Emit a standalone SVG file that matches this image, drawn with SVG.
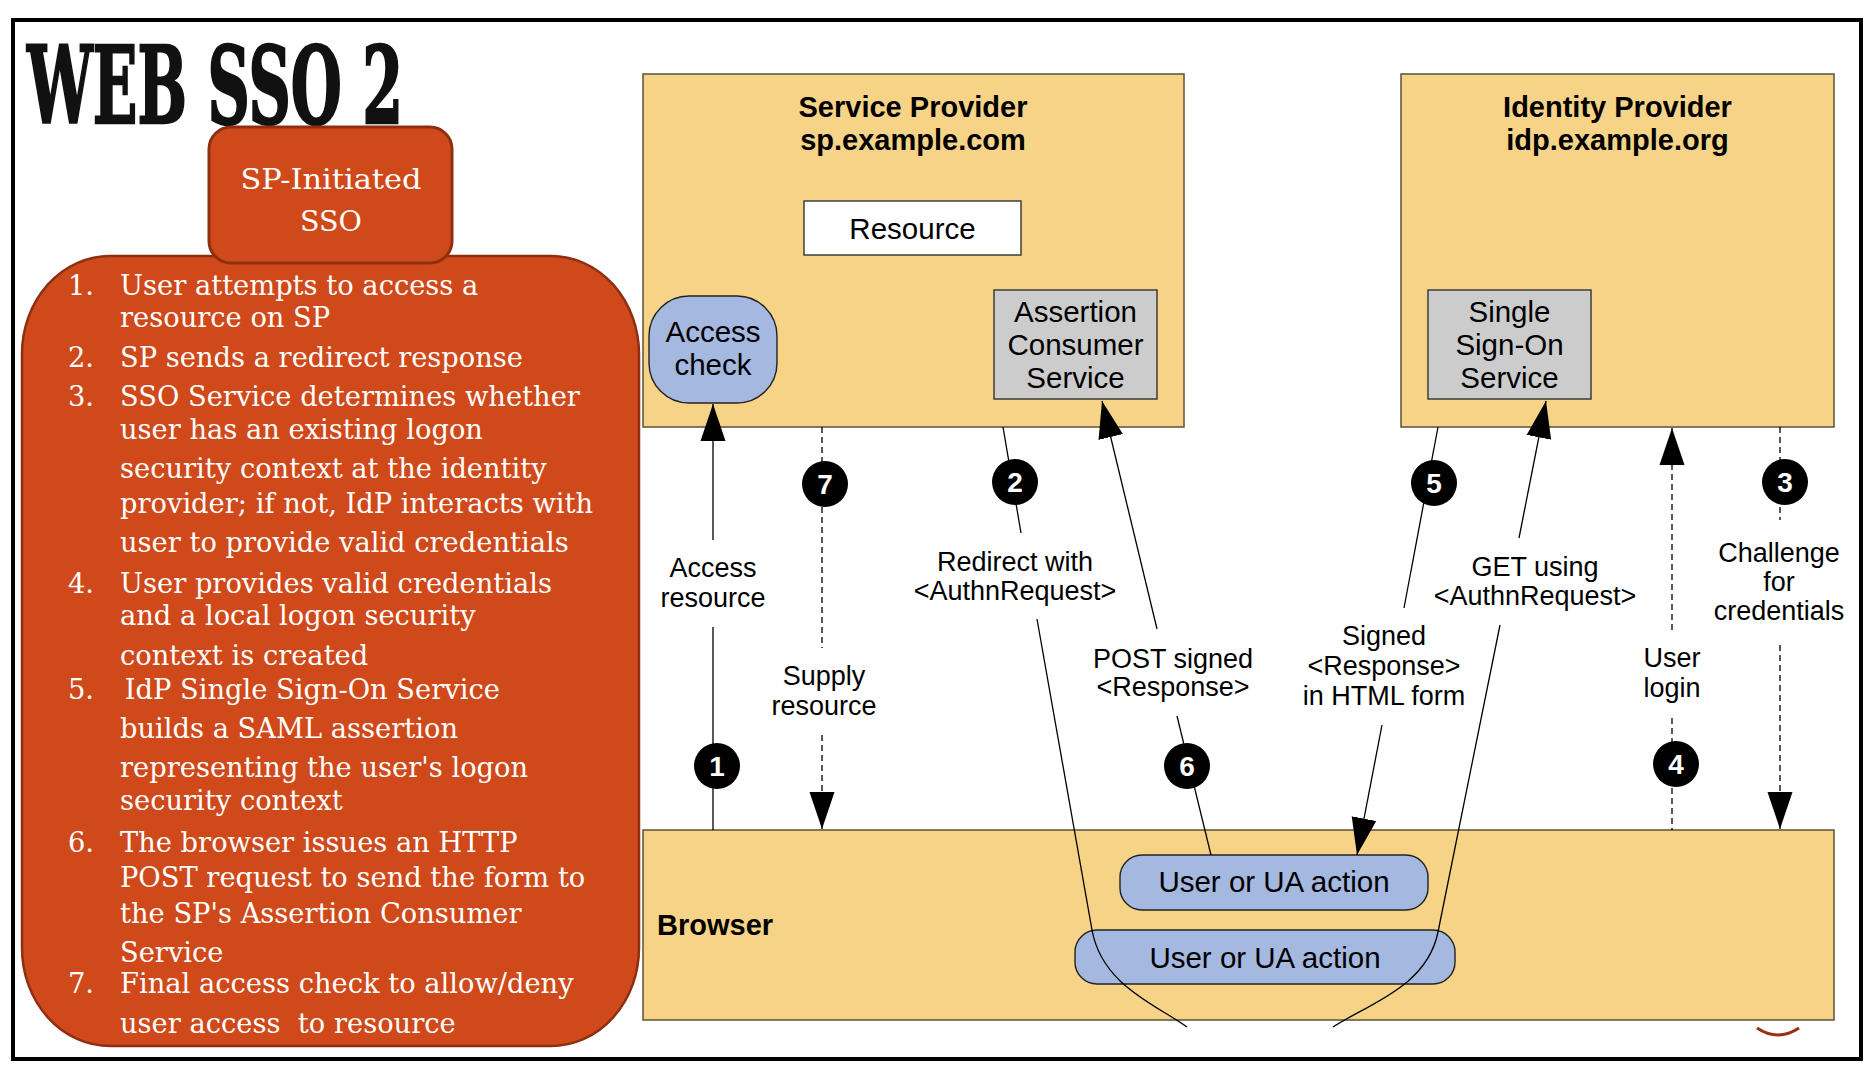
<svg xmlns="http://www.w3.org/2000/svg" width="1872" height="1069" viewBox="0 0 1872 1069">
  <style>
    .panel { fill: #D0491B; stroke: #8E2F12; }
    .ltxt { font-family: 'DejaVu Serif', 'Liberation Serif', serif; font-size: 27.3px; fill: #FFFFFF; white-space: pre; }
    .zone { fill: #F6D387; stroke: #5E5236; stroke-width: 1.5; }
    .ztitle { font-family: 'Liberation Sans', Arial, sans-serif; font-size: 29px; font-weight: bold; fill: #000; text-anchor: middle; }
    .ntxt { font-family: 'Liberation Sans', Arial, sans-serif; font-size: 29.5px; fill: #000; text-anchor: middle; }
    .blue { fill: #A5B8DF; stroke: #222; stroke-width: 1.4; }
    .gray { fill: #CCCCCC; stroke: #333; stroke-width: 1.4; }
    .white { fill: #FFFFFF; stroke: #333; stroke-width: 1.4; }
    .line { fill: none; stroke: #000; stroke-width: 1.3; }
    .dash { fill: none; stroke: #000; stroke-width: 1.3; stroke-dasharray: 6 4; }
    .lab { font-family: 'Liberation Sans', Arial, sans-serif; font-size: 27px; fill: #000; text-anchor: middle; }
    .step { fill: #000; }
    .num { font-family: 'Liberation Sans', Arial, sans-serif; font-size: 28px; font-weight: bold; fill: #FFF; text-anchor: middle; }
  </style>
  <defs>
    <marker id="arr" markerUnits="userSpaceOnUse" markerWidth="37" markerHeight="26" viewBox="0 0 37 26" refX="37" refY="13" orient="auto">
      <path d="M0,0.5 L37,13 L0,25.5 Z" fill="#000" stroke="none"/>
    </marker>
  </defs>

  <rect x="0" y="0" width="1872" height="1069" fill="#FFFFFF"/>
  <rect id="frame" x="13" y="20" width="1848" height="1039" fill="none" stroke="#000" stroke-width="4"/>

  <g id="title">
    <text x="27" y="123" font-family="'DejaVu Serif', 'Liberation Serif', serif" font-weight="bold" font-size="106" textLength="376" lengthAdjust="spacingAndGlyphs" fill="#111" stroke="#111" stroke-width="2.5">WEB SSO 2</text>
  </g>

  <g id="steps-panel">
    <rect class="panel" x="22" y="256" width="617" height="790" rx="88" ry="98" stroke-width="2.5"/>
    <text class="ltxt" x="68" y="295">1.</text><text class="ltxt" x="120" y="295">User attempts to access a</text>
    <text class="ltxt" x="120" y="327">resource on SP</text>
    <text class="ltxt" x="68" y="367">2.</text><text class="ltxt" x="120" y="367">SP sends a redirect response</text>
    <text class="ltxt" x="68" y="406">3.</text><text class="ltxt" x="120" y="406">SSO Service determines whether</text>
    <text class="ltxt" x="120" y="439">user has an existing logon</text>
    <text class="ltxt" x="120" y="478">security context at the identity</text>
    <text class="ltxt" x="120" y="513">provider; if not, IdP interacts with</text>
    <text class="ltxt" x="120" y="552">user to provide valid credentials</text>
    <text class="ltxt" x="68" y="593">4.</text><text class="ltxt" x="120" y="593">User provides valid credentials</text>
    <text class="ltxt" x="120" y="625">and a local logon security</text>
    <text class="ltxt" x="120" y="665">context is created</text>
    <text class="ltxt" x="68" y="699">5.</text><text class="ltxt" x="116" y="699"> IdP Single Sign-On Service</text>
    <text class="ltxt" x="120" y="738">builds a SAML assertion</text>
    <text class="ltxt" x="120" y="777">representing the user's logon</text>
    <text class="ltxt" x="120" y="810">security context</text>
    <text class="ltxt" x="68" y="852">6.</text><text class="ltxt" x="120" y="852">The browser issues an HTTP</text>
    <text class="ltxt" x="120" y="887">POST request to send the form to</text>
    <text class="ltxt" x="120" y="923">the SP's Assertion Consumer</text>
    <text class="ltxt" x="120" y="962">Service</text>
    <text class="ltxt" x="68" y="993">7.</text><text class="ltxt" x="120" y="993">Final access check to allow/deny</text>
    <text class="ltxt" x="120" y="1033">user access  to resource</text>
  </g>

  <g id="sp-initiated">
    <rect class="panel" x="209" y="127" width="243" height="136" rx="22" stroke-width="3"/>
    <text class="ltxt" x="331" y="189" font-size="31" text-anchor="middle" textLength="181" lengthAdjust="spacingAndGlyphs">SP-Initiated</text>
    <text class="ltxt" x="331" y="231" font-size="31" text-anchor="middle" textLength="62" lengthAdjust="spacingAndGlyphs">SSO</text>
  </g>

  <g id="service-provider">
    <rect class="zone" x="643" y="74" width="541" height="353"/>
    <text class="ztitle" x="913" y="117">Service Provider</text>
    <text class="ztitle" x="913" y="150">sp.example.com</text>
  </g>
  <g id="resource">
    <rect class="white" x="804" y="201" width="217" height="54"/>
    <text class="ntxt" x="912.5" y="239">Resource</text>
  </g>
  <g id="access-check">
    <rect class="blue" x="649" y="296" width="128" height="107" rx="40" ry="40"/>
    <text class="ntxt" x="713" y="342">Access</text>
    <text class="ntxt" x="713" y="375">check</text>
  </g>
  <g id="assertion-consumer-service">
    <rect class="gray" x="994" y="290" width="163" height="109"/>
    <text class="ntxt" x="1075.5" y="322">Assertion</text>
    <text class="ntxt" x="1075.5" y="355">Consumer</text>
    <text class="ntxt" x="1075.5" y="388">Service</text>
  </g>

  <g id="identity-provider">
    <rect class="zone" x="1401" y="74" width="433" height="353"/>
    <text class="ztitle" x="1617.5" y="117">Identity Provider</text>
    <text class="ztitle" x="1617.5" y="150">idp.example.org</text>
  </g>
  <g id="single-sign-on-service">
    <rect class="gray" x="1428" y="290" width="163" height="109"/>
    <text class="ntxt" x="1509.5" y="322">Single</text>
    <text class="ntxt" x="1509.5" y="355">Sign-On</text>
    <text class="ntxt" x="1509.5" y="388">Service</text>
  </g>

  <g id="browser">
    <rect class="zone" x="643" y="830" width="1191" height="190"/>
    <text x="657" y="935" font-family="'Liberation Sans', Arial, sans-serif" font-size="29" font-weight="bold" fill="#000">Browser</text>
  </g>
  <g id="ua-action-1">
    <rect class="blue" x="1120" y="855" width="308" height="55" rx="22" ry="22"/>
    <text class="ntxt" x="1274" y="892">User or UA action</text>
  </g>
  <g id="ua-action-2">
    <rect class="blue" x="1075" y="930" width="380" height="54" rx="22" ry="22"/>
    <text class="ntxt" x="1265" y="968">User or UA action</text>
  </g>

  <g id="connectors">
    <!-- 1 Access resource -->
    <path class="line" d="M713,540 L713,404" marker-end="url(#arr)"/>
    <path class="line" d="M713,627 L713,830"/>
    <text class="lab" x="713" y="577">Access</text>
    <text class="lab" x="713" y="607">resource</text>
    <!-- 7 Supply resource -->
    <path class="dash" d="M822,427 L822,648"/>
    <path class="dash" d="M822,735 L822,829" marker-end="url(#arr)"/>
    <text class="lab" x="824" y="685">Supply</text>
    <text class="lab" x="824" y="715">resource</text>
    <!-- 2 Redirect with AuthnRequest -->
    <path class="line" d="M1003,427 L1021,533"/>
    <path class="line" d="M1037,619 L1092,930 C1102,985 1155,1004 1187,1027"/>
    <text class="lab" x="1015" y="571">Redirect with</text>
    <text class="lab" x="1015" y="600">&lt;AuthnRequest&gt;</text>
    <!-- GET using AuthnRequest -->
    <path class="line" d="M1519,538 L1546,401" marker-end="url(#arr)"/>
    <path class="line" d="M1500,625 L1438,932 C1427,987 1368,1004 1333,1027"/>
    <text class="lab" x="1535" y="576">GET using</text>
    <text class="lab" x="1535" y="605">&lt;AuthnRequest&gt;</text>
    <!-- 3 Challenge for credentials -->
    <path class="dash" d="M1780,427 L1780,520"/>
    <path class="dash" d="M1780,645 L1780,829" marker-end="url(#arr)"/>
    <text class="lab" x="1779" y="562">Challenge</text>
    <text class="lab" x="1779" y="591">for</text>
    <text class="lab" x="1779" y="620">credentials</text>
    <!-- 4 User login -->
    <path class="dash" d="M1672,630 L1672,428" marker-end="url(#arr)"/>
    <path class="dash" d="M1672,718 L1672,830"/>
    <text class="lab" x="1672" y="667">User</text>
    <text class="lab" x="1672" y="697">login</text>
    <!-- 5 Signed Response in HTML form -->
    <path class="line" d="M1438,427 L1404,608"/>
    <path class="line" d="M1382,725 L1357,855" marker-end="url(#arr)"/>
    <text class="lab" x="1384" y="645">Signed</text>
    <text class="lab" x="1384" y="675">&lt;Response&gt;</text>
    <text class="lab" x="1384" y="705">in HTML form</text>
    <!-- 6 POST signed Response -->
    <path class="line" d="M1157,629 L1102,401" marker-end="url(#arr)"/>
    <path class="line" d="M1177,716 L1211,855"/>
    <text class="lab" x="1173" y="668">POST signed</text>
    <text class="lab" x="1173" y="696">&lt;Response&gt;</text>

    <g id="step-markers">
      <circle class="step" cx="717" cy="766" r="23"/><text class="num" x="717" y="776">1</text>
      <circle class="step" cx="1015" cy="482" r="23"/><text class="num" x="1015" y="492">2</text>
      <circle class="step" cx="1785" cy="482" r="23"/><text class="num" x="1785" y="492">3</text>
      <circle class="step" cx="1676" cy="764" r="23"/><text class="num" x="1676" y="774">4</text>
      <circle class="step" cx="1434" cy="483" r="23"/><text class="num" x="1434" y="493">5</text>
      <circle class="step" cx="1187" cy="766" r="23"/><text class="num" x="1187" y="776">6</text>
      <circle class="step" cx="825" cy="484" r="23"/><text class="num" x="825" y="494">7</text>
    </g>
  </g>

  <path id="logo-fragment" d="M1757,1028 Q1778,1042 1799,1028" fill="none" stroke="#9C2E14" stroke-width="3"/>
</svg>
